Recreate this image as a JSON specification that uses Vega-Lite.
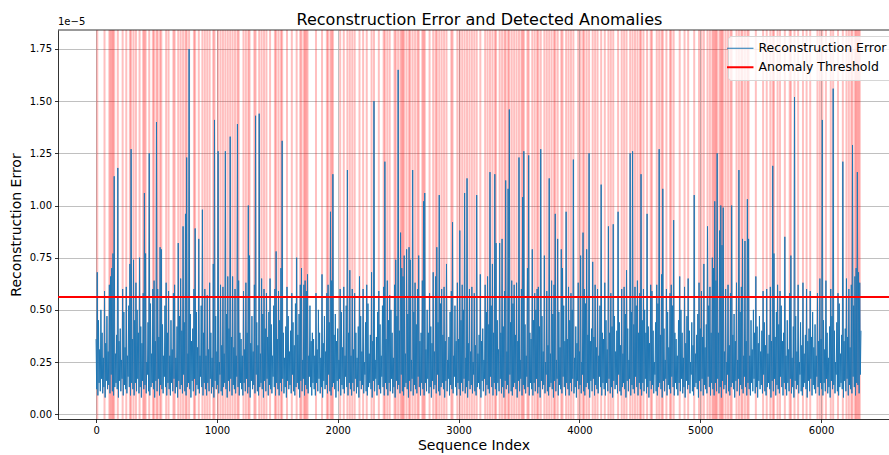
{
"$schema":"https://vega.github.io/schema/vega-lite/v6.json",
"width":831,"height":389,
"autosize":{"type":"none"},
"padding":{"left":58,"top":30,"right":0,"bottom":36},
"title":{"text":"Reconstruction Error and Detected Anomalies","fontSize":16,"fontWeight":"normal","anchor":"middle","offset":6,"dx":6,"dy":17,"color":"#000"},
"datasets":{"err":[
{"x":0,"y":0.36},{"x":5,"y":0.12},{"x":10,"y":0.68},{"x":15,"y":0.09},{"x":20,"y":0.45},{"x":25,"y":0.15},{"x":30,"y":0.31},{"x":35,"y":0.11},{"x":40,"y":0.50},{"x":45,"y":0.17},{"x":50,"y":0.39},{"x":55,"y":0.10},{"x":60,"y":0.27},{"x":65,"y":0.13},{"x":70,"y":0.59},{"x":75,"y":0.08},{"x":80,"y":0.34},{"x":85,"y":0.16},{"x":90,"y":0.47},{"x":95,"y":0.12},
{"x":100,"y":0.30},{"x":105,"y":0.14},{"x":110,"y":0.62},{"x":115,"y":0.10},{"x":120,"y":0.66},{"x":125,"y":0.19},{"x":130,"y":0.70},{"x":135,"y":0.11},{"x":140,"y":0.77},{"x":145,"y":0.09},{"x":150,"y":1.14},{"x":155,"y":0.13},{"x":160,"y":0.29},{"x":165,"y":0.15},{"x":170,"y":0.38},{"x":175,"y":0.12},{"x":180,"y":1.18},{"x":185,"y":0.08},{"x":190,"y":0.35},{"x":195,"y":0.16},
{"x":200,"y":0.41},{"x":205,"y":0.11},{"x":210,"y":0.26},{"x":215,"y":0.17},{"x":220,"y":0.60},{"x":225,"y":0.09},{"x":230,"y":0.49},{"x":235,"y":0.14},{"x":240,"y":0.32},{"x":245,"y":0.12},{"x":250,"y":0.61},{"x":255,"y":0.10},{"x":260,"y":0.28},{"x":265,"y":0.18},{"x":270,"y":0.52},{"x":275,"y":0.13},{"x":280,"y":0.72},{"x":285,"y":0.09},{"x":290,"y":1.27},{"x":295,"y":0.15},
{"x":300,"y":0.36},{"x":305,"y":0.12},{"x":310,"y":0.74},{"x":315,"y":0.09},{"x":320,"y":0.45},{"x":325,"y":0.15},{"x":330,"y":0.63},{"x":335,"y":0.11},{"x":340,"y":0.50},{"x":345,"y":0.17},{"x":350,"y":0.39},{"x":355,"y":0.10},{"x":360,"y":0.75},{"x":365,"y":0.13},{"x":370,"y":0.42},{"x":375,"y":0.08},{"x":380,"y":0.34},{"x":385,"y":0.16},{"x":390,"y":0.58},{"x":395,"y":0.12},
{"x":400,"y":1.06},{"x":405,"y":0.14},{"x":410,"y":0.77},{"x":415,"y":0.10},{"x":420,"y":0.25},{"x":425,"y":0.19},{"x":430,"y":0.44},{"x":435,"y":0.11},{"x":440,"y":1.25},{"x":445,"y":0.09},{"x":450,"y":0.53},{"x":455,"y":0.13},{"x":460,"y":0.29},{"x":465,"y":0.15},{"x":470,"y":0.60},{"x":475,"y":0.12},{"x":480,"y":0.64},{"x":485,"y":0.08},{"x":490,"y":0.35},{"x":495,"y":0.16},
{"x":500,"y":1.40},{"x":505,"y":0.11},{"x":510,"y":0.60},{"x":515,"y":0.17},{"x":520,"y":0.37},{"x":525,"y":0.09},{"x":530,"y":0.80},{"x":535,"y":0.14},{"x":540,"y":0.79},{"x":545,"y":0.12},{"x":550,"y":0.43},{"x":555,"y":0.10},{"x":560,"y":0.28},{"x":565,"y":0.18},{"x":570,"y":0.52},{"x":575,"y":0.13},{"x":580,"y":0.63},{"x":585,"y":0.09},{"x":590,"y":0.39},{"x":595,"y":0.15},
{"x":600,"y":0.59},{"x":605,"y":0.12},{"x":610,"y":0.28},{"x":615,"y":0.09},{"x":620,"y":0.45},{"x":625,"y":0.15},{"x":630,"y":0.31},{"x":635,"y":0.11},{"x":640,"y":0.58},{"x":645,"y":0.17},{"x":650,"y":0.62},{"x":655,"y":0.10},{"x":660,"y":0.27},{"x":665,"y":0.13},{"x":670,"y":0.42},{"x":675,"y":0.08},{"x":680,"y":0.82},{"x":685,"y":0.16},{"x":690,"y":0.47},{"x":695,"y":0.12},
{"x":700,"y":0.65},{"x":705,"y":0.14},{"x":710,"y":0.40},{"x":715,"y":0.10},{"x":720,"y":0.90},{"x":725,"y":0.19},{"x":730,"y":0.44},{"x":735,"y":0.11},{"x":740,"y":0.96},{"x":745,"y":0.09},{"x":750,"y":1.23},{"x":755,"y":0.13},{"x":760,"y":0.29},{"x":765,"y":0.15},{"x":770,"y":1.75},{"x":775,"y":0.12},{"x":780,"y":0.48},{"x":785,"y":0.08},{"x":790,"y":0.35},{"x":795,"y":0.16},
{"x":800,"y":0.41},{"x":805,"y":0.11},{"x":810,"y":0.60},{"x":815,"y":0.17},{"x":820,"y":0.89},{"x":825,"y":0.09},{"x":830,"y":0.49},{"x":835,"y":0.14},{"x":840,"y":0.32},{"x":845,"y":0.12},{"x":850,"y":0.84},{"x":855,"y":0.10},{"x":860,"y":0.28},{"x":865,"y":0.18},{"x":870,"y":0.52},{"x":875,"y":0.13},{"x":880,"y":0.98},{"x":885,"y":0.09},{"x":890,"y":0.39},{"x":895,"y":0.15},
{"x":900,"y":0.60},{"x":905,"y":0.12},{"x":910,"y":0.28},{"x":915,"y":0.09},{"x":920,"y":0.57},{"x":925,"y":0.15},{"x":930,"y":0.31},{"x":935,"y":0.11},{"x":940,"y":0.63},{"x":945,"y":0.17},{"x":950,"y":0.39},{"x":955,"y":0.10},{"x":960,"y":0.27},{"x":965,"y":0.13},{"x":970,"y":0.72},{"x":975,"y":0.08},{"x":980,"y":1.41},{"x":985,"y":0.16},{"x":990,"y":0.47},{"x":995,"y":0.12},
{"x":1000,"y":0.30},{"x":1005,"y":0.14},{"x":1010,"y":1.26},{"x":1015,"y":0.10},{"x":1020,"y":0.25},{"x":1025,"y":0.19},{"x":1030,"y":0.62},{"x":1035,"y":0.11},{"x":1040,"y":0.33},{"x":1045,"y":0.09},{"x":1050,"y":0.61},{"x":1055,"y":0.13},{"x":1060,"y":0.29},{"x":1065,"y":0.15},{"x":1070,"y":1.26},{"x":1075,"y":0.12},{"x":1080,"y":0.48},{"x":1085,"y":0.08},{"x":1090,"y":0.66},{"x":1095,"y":0.16},
{"x":1100,"y":0.41},{"x":1105,"y":0.11},{"x":1110,"y":1.33},{"x":1115,"y":0.17},{"x":1120,"y":0.37},{"x":1125,"y":0.09},{"x":1130,"y":0.66},{"x":1135,"y":0.14},{"x":1140,"y":0.32},{"x":1145,"y":0.12},{"x":1150,"y":0.60},{"x":1155,"y":0.10},{"x":1160,"y":0.28},{"x":1165,"y":0.18},{"x":1170,"y":1.39},{"x":1175,"y":0.13},{"x":1180,"y":0.64},{"x":1185,"y":0.09},{"x":1190,"y":0.39},{"x":1195,"y":0.15},
{"x":1200,"y":0.36},{"x":1205,"y":0.12},{"x":1210,"y":0.28},{"x":1215,"y":0.09},{"x":1220,"y":0.59},{"x":1225,"y":0.15},{"x":1230,"y":0.31},{"x":1235,"y":0.11},{"x":1240,"y":0.63},{"x":1245,"y":0.17},{"x":1250,"y":0.39},{"x":1255,"y":0.10},{"x":1260,"y":1.00},{"x":1265,"y":0.13},{"x":1270,"y":0.76},{"x":1275,"y":0.08},{"x":1280,"y":0.34},{"x":1285,"y":0.16},{"x":1290,"y":0.47},{"x":1295,"y":0.12},
{"x":1300,"y":0.30},{"x":1305,"y":0.14},{"x":1310,"y":0.62},{"x":1315,"y":0.10},{"x":1320,"y":1.43},{"x":1325,"y":0.19},{"x":1330,"y":0.44},{"x":1335,"y":0.11},{"x":1340,"y":0.33},{"x":1345,"y":0.09},{"x":1350,"y":1.44},{"x":1355,"y":0.13},{"x":1360,"y":0.29},{"x":1365,"y":0.15},{"x":1370,"y":0.65},{"x":1375,"y":0.12},{"x":1380,"y":0.48},{"x":1385,"y":0.08},{"x":1390,"y":0.60},{"x":1395,"y":0.16},
{"x":1400,"y":0.41},{"x":1405,"y":0.11},{"x":1410,"y":0.58},{"x":1415,"y":0.17},{"x":1420,"y":0.37},{"x":1425,"y":0.09},{"x":1430,"y":0.49},{"x":1435,"y":0.14},{"x":1440,"y":0.65},{"x":1445,"y":0.12},{"x":1450,"y":0.43},{"x":1455,"y":0.10},{"x":1460,"y":0.28},{"x":1465,"y":0.18},{"x":1470,"y":0.52},{"x":1475,"y":0.13},{"x":1480,"y":0.60},{"x":1485,"y":0.09},{"x":1490,"y":0.78},{"x":1495,"y":0.15},
{"x":1500,"y":0.36},{"x":1505,"y":0.12},{"x":1510,"y":0.59},{"x":1515,"y":0.09},{"x":1520,"y":0.45},{"x":1525,"y":0.15},{"x":1530,"y":0.70},{"x":1535,"y":0.11},{"x":1540,"y":1.31},{"x":1545,"y":0.17},{"x":1550,"y":0.39},{"x":1555,"y":0.10},{"x":1560,"y":0.27},{"x":1565,"y":0.13},{"x":1570,"y":0.42},{"x":1575,"y":0.08},{"x":1580,"y":0.61},{"x":1585,"y":0.16},{"x":1590,"y":0.47},{"x":1595,"y":0.12},
{"x":1600,"y":0.30},{"x":1605,"y":0.14},{"x":1610,"y":0.40},{"x":1615,"y":0.10},{"x":1620,"y":0.58},{"x":1625,"y":0.19},{"x":1630,"y":0.44},{"x":1635,"y":0.11},{"x":1640,"y":0.33},{"x":1645,"y":0.09},{"x":1650,"y":0.53},{"x":1655,"y":0.13},{"x":1660,"y":0.75},{"x":1665,"y":0.15},{"x":1670,"y":0.38},{"x":1675,"y":0.12},{"x":1680,"y":0.48},{"x":1685,"y":0.08},{"x":1690,"y":0.62},{"x":1695,"y":0.16},
{"x":1700,"y":0.70},{"x":1705,"y":0.11},{"x":1710,"y":0.26},{"x":1715,"y":0.17},{"x":1720,"y":0.62},{"x":1725,"y":0.09},{"x":1730,"y":0.64},{"x":1735,"y":0.14},{"x":1740,"y":0.59},{"x":1745,"y":0.12},{"x":1750,"y":0.67},{"x":1755,"y":0.10},{"x":1760,"y":0.28},{"x":1765,"y":0.18},{"x":1770,"y":0.52},{"x":1775,"y":0.13},{"x":1780,"y":0.35},{"x":1785,"y":0.09},{"x":1790,"y":0.39},{"x":1795,"y":0.15},
{"x":1800,"y":0.36},{"x":1805,"y":0.12},{"x":1810,"y":0.28},{"x":1815,"y":0.09},{"x":1820,"y":0.58},{"x":1825,"y":0.15},{"x":1830,"y":0.31},{"x":1835,"y":0.11},{"x":1840,"y":0.50},{"x":1845,"y":0.17},{"x":1850,"y":0.39},{"x":1855,"y":0.10},{"x":1860,"y":0.27},{"x":1865,"y":0.13},{"x":1870,"y":0.67},{"x":1875,"y":0.08},{"x":1880,"y":0.34},{"x":1885,"y":0.16},{"x":1890,"y":0.47},{"x":1895,"y":0.12},
{"x":1900,"y":0.30},{"x":1905,"y":0.14},{"x":1910,"y":0.58},{"x":1915,"y":0.10},{"x":1920,"y":0.62},{"x":1925,"y":0.19},{"x":1930,"y":0.44},{"x":1935,"y":0.11},{"x":1940,"y":0.97},{"x":1945,"y":0.09},{"x":1950,"y":0.64},{"x":1955,"y":0.13},{"x":1960,"y":1.15},{"x":1965,"y":0.15},{"x":1970,"y":0.38},{"x":1975,"y":0.12},{"x":1980,"y":0.48},{"x":1985,"y":0.08},{"x":1990,"y":0.35},{"x":1995,"y":0.16},
{"x":2000,"y":0.41},{"x":2005,"y":0.11},{"x":2010,"y":0.26},{"x":2015,"y":0.17},{"x":2020,"y":0.60},{"x":2025,"y":0.09},{"x":2030,"y":0.49},{"x":2035,"y":0.14},{"x":2040,"y":0.32},{"x":2045,"y":0.12},{"x":2050,"y":0.61},{"x":2055,"y":0.10},{"x":2060,"y":0.28},{"x":2065,"y":0.18},{"x":2070,"y":0.52},{"x":2075,"y":0.13},{"x":2080,"y":1.17},{"x":2085,"y":0.09},{"x":2090,"y":0.39},{"x":2095,"y":0.15},
{"x":2100,"y":0.69},{"x":2105,"y":0.12},{"x":2110,"y":0.28},{"x":2115,"y":0.09},{"x":2120,"y":0.60},{"x":2125,"y":0.15},{"x":2130,"y":0.31},{"x":2135,"y":0.11},{"x":2140,"y":0.58},{"x":2145,"y":0.17},{"x":2150,"y":0.39},{"x":2155,"y":0.10},{"x":2160,"y":0.27},{"x":2165,"y":0.13},{"x":2170,"y":0.42},{"x":2175,"y":0.08},{"x":2180,"y":0.66},{"x":2185,"y":0.16},{"x":2190,"y":0.47},{"x":2195,"y":0.12},
{"x":2200,"y":0.30},{"x":2205,"y":0.14},{"x":2210,"y":0.60},{"x":2215,"y":0.10},{"x":2220,"y":0.25},{"x":2225,"y":0.19},{"x":2230,"y":0.44},{"x":2235,"y":0.11},{"x":2240,"y":0.62},{"x":2245,"y":0.09},{"x":2250,"y":0.53},{"x":2255,"y":0.13},{"x":2260,"y":0.29},{"x":2265,"y":0.15},{"x":2270,"y":0.38},{"x":2275,"y":0.12},{"x":2280,"y":0.68},{"x":2285,"y":0.08},{"x":2290,"y":0.35},{"x":2295,"y":0.16},
{"x":2300,"y":1.50},{"x":2305,"y":0.11},{"x":2310,"y":0.26},{"x":2315,"y":0.17},{"x":2320,"y":0.37},{"x":2325,"y":0.09},{"x":2330,"y":0.49},{"x":2335,"y":0.14},{"x":2340,"y":0.59},{"x":2345,"y":0.12},{"x":2350,"y":0.43},{"x":2355,"y":0.10},{"x":2360,"y":0.28},{"x":2365,"y":0.18},{"x":2370,"y":0.52},{"x":2375,"y":0.13},{"x":2380,"y":0.61},{"x":2385,"y":0.09},{"x":2390,"y":1.21},{"x":2395,"y":0.15},
{"x":2400,"y":0.36},{"x":2405,"y":0.12},{"x":2410,"y":0.64},{"x":2415,"y":0.09},{"x":2420,"y":0.45},{"x":2425,"y":0.15},{"x":2430,"y":0.57},{"x":2435,"y":0.11},{"x":2440,"y":0.50},{"x":2445,"y":0.17},{"x":2450,"y":0.39},{"x":2455,"y":0.10},{"x":2460,"y":0.27},{"x":2465,"y":0.13},{"x":2470,"y":0.62},{"x":2475,"y":0.08},{"x":2480,"y":0.74},{"x":2485,"y":0.16},{"x":2490,"y":0.47},{"x":2495,"y":0.12},
{"x":2500,"y":1.65},{"x":2505,"y":0.14},{"x":2510,"y":0.40},{"x":2515,"y":0.10},{"x":2520,"y":0.87},{"x":2525,"y":0.19},{"x":2530,"y":0.70},{"x":2535,"y":0.11},{"x":2540,"y":0.66},{"x":2545,"y":0.09},{"x":2550,"y":0.76},{"x":2555,"y":0.13},{"x":2560,"y":0.29},{"x":2565,"y":0.15},{"x":2570,"y":0.79},{"x":2575,"y":0.12},{"x":2580,"y":0.48},{"x":2585,"y":0.08},{"x":2590,"y":0.80},{"x":2595,"y":0.16},
{"x":2600,"y":0.74},{"x":2605,"y":0.11},{"x":2610,"y":0.26},{"x":2615,"y":0.17},{"x":2620,"y":1.17},{"x":2625,"y":0.09},{"x":2630,"y":0.49},{"x":2635,"y":0.14},{"x":2640,"y":0.63},{"x":2645,"y":0.12},{"x":2650,"y":0.43},{"x":2655,"y":0.10},{"x":2660,"y":0.60},{"x":2665,"y":0.18},{"x":2670,"y":0.76},{"x":2675,"y":0.13},{"x":2680,"y":0.35},{"x":2685,"y":0.09},{"x":2690,"y":0.39},{"x":2695,"y":0.15},
{"x":2700,"y":0.64},{"x":2705,"y":0.12},{"x":2710,"y":1.02},{"x":2715,"y":0.09},{"x":2720,"y":1.06},{"x":2725,"y":0.15},{"x":2730,"y":0.31},{"x":2735,"y":0.11},{"x":2740,"y":0.50},{"x":2745,"y":0.17},{"x":2750,"y":0.39},{"x":2755,"y":0.10},{"x":2760,"y":0.58},{"x":2765,"y":0.13},{"x":2770,"y":0.42},{"x":2775,"y":0.08},{"x":2780,"y":0.34},{"x":2785,"y":0.16},{"x":2790,"y":0.68},{"x":2795,"y":0.12},
{"x":2800,"y":0.30},{"x":2805,"y":0.14},{"x":2810,"y":0.66},{"x":2815,"y":0.10},{"x":2820,"y":0.80},{"x":2825,"y":0.19},{"x":2830,"y":0.44},{"x":2835,"y":0.11},{"x":2840,"y":1.05},{"x":2845,"y":0.09},{"x":2850,"y":0.53},{"x":2855,"y":0.13},{"x":2860,"y":0.60},{"x":2865,"y":0.15},{"x":2870,"y":0.38},{"x":2875,"y":0.12},{"x":2880,"y":0.61},{"x":2885,"y":0.08},{"x":2890,"y":0.35},{"x":2895,"y":0.16},
{"x":2900,"y":0.72},{"x":2905,"y":0.11},{"x":2910,"y":0.26},{"x":2915,"y":0.17},{"x":2920,"y":0.37},{"x":2925,"y":0.09},{"x":2930,"y":0.49},{"x":2935,"y":0.14},{"x":2940,"y":0.59},{"x":2945,"y":0.12},{"x":2950,"y":0.92},{"x":2955,"y":0.10},{"x":2960,"y":0.28},{"x":2965,"y":0.18},{"x":2970,"y":0.52},{"x":2975,"y":0.13},{"x":2980,"y":0.35},{"x":2985,"y":0.09},{"x":2990,"y":0.63},{"x":2995,"y":0.15},
{"x":3000,"y":0.36},{"x":3005,"y":0.12},{"x":3010,"y":0.88},{"x":3015,"y":0.09},{"x":3020,"y":0.45},{"x":3025,"y":0.15},{"x":3030,"y":0.62},{"x":3035,"y":0.11},{"x":3040,"y":0.50},{"x":3045,"y":0.17},{"x":3050,"y":1.06},{"x":3055,"y":0.10},{"x":3060,"y":0.27},{"x":3065,"y":0.13},{"x":3070,"y":1.13},{"x":3075,"y":0.08},{"x":3080,"y":0.34},{"x":3085,"y":0.16},{"x":3090,"y":0.60},{"x":3095,"y":0.12},
{"x":3100,"y":0.30},{"x":3105,"y":0.14},{"x":3110,"y":0.61},{"x":3115,"y":0.10},{"x":3120,"y":0.25},{"x":3125,"y":0.19},{"x":3130,"y":0.58},{"x":3135,"y":0.11},{"x":3140,"y":0.33},{"x":3145,"y":0.09},{"x":3150,"y":1.05},{"x":3155,"y":0.13},{"x":3160,"y":0.29},{"x":3165,"y":0.15},{"x":3170,"y":0.38},{"x":3175,"y":0.12},{"x":3180,"y":0.67},{"x":3185,"y":0.08},{"x":3190,"y":0.35},{"x":3195,"y":0.16},
{"x":3200,"y":0.41},{"x":3205,"y":0.11},{"x":3210,"y":0.26},{"x":3215,"y":0.17},{"x":3220,"y":0.62},{"x":3225,"y":0.09},{"x":3230,"y":0.49},{"x":3235,"y":0.14},{"x":3240,"y":0.66},{"x":3245,"y":0.12},{"x":3250,"y":0.43},{"x":3255,"y":0.10},{"x":3260,"y":1.16},{"x":3265,"y":0.18},{"x":3270,"y":0.52},{"x":3275,"y":0.13},{"x":3280,"y":0.72},{"x":3285,"y":0.09},{"x":3290,"y":0.39},{"x":3295,"y":0.15},
{"x":3300,"y":1.15},{"x":3305,"y":0.12},{"x":3310,"y":0.82},{"x":3315,"y":0.09},{"x":3320,"y":0.45},{"x":3325,"y":0.15},{"x":3330,"y":0.31},{"x":3335,"y":0.11},{"x":3340,"y":0.82},{"x":3345,"y":0.17},{"x":3350,"y":0.39},{"x":3355,"y":0.10},{"x":3360,"y":0.84},{"x":3365,"y":0.13},{"x":3370,"y":0.42},{"x":3375,"y":0.08},{"x":3380,"y":0.59},{"x":3385,"y":0.16},{"x":3390,"y":1.12},{"x":3395,"y":0.12},
{"x":3400,"y":0.30},{"x":3405,"y":0.14},{"x":3410,"y":1.08},{"x":3415,"y":0.10},{"x":3420,"y":1.46},{"x":3425,"y":0.19},{"x":3430,"y":0.44},{"x":3435,"y":0.11},{"x":3440,"y":0.64},{"x":3445,"y":0.09},{"x":3450,"y":0.53},{"x":3455,"y":0.13},{"x":3460,"y":0.62},{"x":3465,"y":0.15},{"x":3470,"y":0.38},{"x":3475,"y":0.12},{"x":3480,"y":0.63},{"x":3485,"y":0.08},{"x":3490,"y":0.35},{"x":3495,"y":0.16},
{"x":3500,"y":1.23},{"x":3505,"y":0.11},{"x":3510,"y":0.26},{"x":3515,"y":0.17},{"x":3520,"y":0.60},{"x":3525,"y":0.09},{"x":3530,"y":1.04},{"x":3535,"y":0.14},{"x":3540,"y":1.26},{"x":3545,"y":0.12},{"x":3550,"y":0.43},{"x":3555,"y":0.10},{"x":3560,"y":0.28},{"x":3565,"y":0.18},{"x":3570,"y":0.70},{"x":3575,"y":0.13},{"x":3580,"y":1.24},{"x":3585,"y":0.09},{"x":3590,"y":0.39},{"x":3595,"y":0.15},
{"x":3600,"y":0.36},{"x":3605,"y":0.12},{"x":3610,"y":0.79},{"x":3615,"y":0.09},{"x":3620,"y":0.45},{"x":3625,"y":0.15},{"x":3630,"y":0.58},{"x":3635,"y":0.11},{"x":3640,"y":0.50},{"x":3645,"y":0.17},{"x":3650,"y":0.60},{"x":3655,"y":0.10},{"x":3660,"y":0.61},{"x":3665,"y":0.13},{"x":3670,"y":0.42},{"x":3675,"y":0.08},{"x":3680,"y":1.27},{"x":3685,"y":0.16},{"x":3690,"y":0.47},{"x":3695,"y":0.12},
{"x":3700,"y":0.30},{"x":3705,"y":0.14},{"x":3710,"y":0.76},{"x":3715,"y":0.10},{"x":3720,"y":0.25},{"x":3725,"y":0.19},{"x":3730,"y":0.59},{"x":3735,"y":0.11},{"x":3740,"y":0.33},{"x":3745,"y":0.09},{"x":3750,"y":1.13},{"x":3755,"y":0.13},{"x":3760,"y":0.29},{"x":3765,"y":0.15},{"x":3770,"y":0.64},{"x":3775,"y":0.12},{"x":3780,"y":0.48},{"x":3785,"y":0.08},{"x":3790,"y":0.62},{"x":3795,"y":0.16},
{"x":3800,"y":0.96},{"x":3805,"y":0.11},{"x":3810,"y":0.26},{"x":3815,"y":0.17},{"x":3820,"y":0.84},{"x":3825,"y":0.09},{"x":3830,"y":0.49},{"x":3835,"y":0.14},{"x":3840,"y":0.32},{"x":3845,"y":0.12},{"x":3850,"y":0.79},{"x":3855,"y":0.10},{"x":3860,"y":0.70},{"x":3865,"y":0.18},{"x":3870,"y":0.52},{"x":3875,"y":0.13},{"x":3880,"y":0.35},{"x":3885,"y":0.09},{"x":3890,"y":0.97},{"x":3895,"y":0.15},
{"x":3900,"y":0.36},{"x":3905,"y":0.12},{"x":3910,"y":0.61},{"x":3915,"y":0.09},{"x":3920,"y":0.45},{"x":3925,"y":0.15},{"x":3930,"y":0.58},{"x":3935,"y":0.11},{"x":3940,"y":0.50},{"x":3945,"y":0.17},{"x":3950,"y":1.22},{"x":3955,"y":0.10},{"x":3960,"y":0.27},{"x":3965,"y":0.13},{"x":3970,"y":0.42},{"x":3975,"y":0.08},{"x":3980,"y":0.34},{"x":3985,"y":0.16},{"x":3990,"y":0.63},{"x":3995,"y":0.12},
{"x":4000,"y":0.30},{"x":4005,"y":0.14},{"x":4010,"y":0.76},{"x":4015,"y":0.10},{"x":4020,"y":0.25},{"x":4025,"y":0.19},{"x":4030,"y":0.87},{"x":4035,"y":0.11},{"x":4040,"y":0.60},{"x":4045,"y":0.09},{"x":4050,"y":0.53},{"x":4055,"y":0.13},{"x":4060,"y":0.79},{"x":4065,"y":0.15},{"x":4070,"y":0.38},{"x":4075,"y":0.12},{"x":4080,"y":1.25},{"x":4085,"y":0.08},{"x":4090,"y":0.35},{"x":4095,"y":0.16},
{"x":4100,"y":0.41},{"x":4105,"y":0.11},{"x":4110,"y":0.73},{"x":4115,"y":0.17},{"x":4120,"y":0.37},{"x":4125,"y":0.09},{"x":4130,"y":0.62},{"x":4135,"y":0.14},{"x":4140,"y":0.32},{"x":4145,"y":0.12},{"x":4150,"y":0.60},{"x":4155,"y":0.10},{"x":4160,"y":0.28},{"x":4165,"y":0.18},{"x":4170,"y":0.52},{"x":4175,"y":0.13},{"x":4180,"y":1.10},{"x":4185,"y":0.09},{"x":4190,"y":0.39},{"x":4195,"y":0.15},
{"x":4200,"y":0.36},{"x":4205,"y":0.12},{"x":4210,"y":0.63},{"x":4215,"y":0.09},{"x":4220,"y":0.45},{"x":4225,"y":0.15},{"x":4230,"y":0.31},{"x":4235,"y":0.11},{"x":4240,"y":0.90},{"x":4245,"y":0.17},{"x":4250,"y":0.39},{"x":4255,"y":0.10},{"x":4260,"y":0.58},{"x":4265,"y":0.13},{"x":4270,"y":0.42},{"x":4275,"y":0.08},{"x":4280,"y":0.91},{"x":4285,"y":0.16},{"x":4290,"y":0.47},{"x":4295,"y":0.12},
{"x":4300,"y":0.30},{"x":4305,"y":0.14},{"x":4310,"y":0.40},{"x":4315,"y":0.10},{"x":4320,"y":0.97},{"x":4325,"y":0.19},{"x":4330,"y":0.44},{"x":4335,"y":0.11},{"x":4340,"y":0.33},{"x":4345,"y":0.09},{"x":4350,"y":0.60},{"x":4355,"y":0.13},{"x":4360,"y":0.29},{"x":4365,"y":0.15},{"x":4370,"y":0.61},{"x":4375,"y":0.12},{"x":4380,"y":0.48},{"x":4385,"y":0.08},{"x":4390,"y":0.69},{"x":4395,"y":0.16},
{"x":4400,"y":0.41},{"x":4405,"y":0.11},{"x":4410,"y":0.26},{"x":4415,"y":0.17},{"x":4420,"y":1.25},{"x":4425,"y":0.09},{"x":4430,"y":0.49},{"x":4435,"y":0.14},{"x":4440,"y":1.26},{"x":4445,"y":0.12},{"x":4450,"y":0.43},{"x":4455,"y":0.10},{"x":4460,"y":0.61},{"x":4465,"y":0.18},{"x":4470,"y":0.52},{"x":4475,"y":0.13},{"x":4480,"y":0.64},{"x":4485,"y":0.09},{"x":4490,"y":0.39},{"x":4495,"y":0.15},
{"x":4500,"y":0.58},{"x":4505,"y":0.12},{"x":4510,"y":1.15},{"x":4515,"y":0.09},{"x":4520,"y":0.45},{"x":4525,"y":0.15},{"x":4530,"y":0.60},{"x":4535,"y":0.11},{"x":4540,"y":0.50},{"x":4545,"y":0.17},{"x":4550,"y":0.39},{"x":4555,"y":0.10},{"x":4560,"y":0.96},{"x":4565,"y":0.13},{"x":4570,"y":0.42},{"x":4575,"y":0.08},{"x":4580,"y":0.34},{"x":4585,"y":0.16},{"x":4590,"y":0.62},{"x":4595,"y":0.12},
{"x":4600,"y":0.59},{"x":4605,"y":0.14},{"x":4610,"y":0.40},{"x":4615,"y":0.10},{"x":4620,"y":0.25},{"x":4625,"y":0.19},{"x":4630,"y":0.44},{"x":4635,"y":0.11},{"x":4640,"y":0.62},{"x":4645,"y":0.09},{"x":4650,"y":0.53},{"x":4655,"y":0.13},{"x":4660,"y":1.27},{"x":4665,"y":0.15},{"x":4670,"y":0.38},{"x":4675,"y":0.12},{"x":4680,"y":0.67},{"x":4685,"y":0.08},{"x":4690,"y":1.08},{"x":4695,"y":0.16},
{"x":4700,"y":0.41},{"x":4705,"y":0.11},{"x":4710,"y":0.26},{"x":4715,"y":0.17},{"x":4720,"y":0.60},{"x":4725,"y":0.09},{"x":4730,"y":0.49},{"x":4735,"y":0.14},{"x":4740,"y":0.32},{"x":4745,"y":0.12},{"x":4750,"y":0.58},{"x":4755,"y":0.10},{"x":4760,"y":0.62},{"x":4765,"y":0.18},{"x":4770,"y":0.52},{"x":4775,"y":0.13},{"x":4780,"y":0.93},{"x":4785,"y":0.09},{"x":4790,"y":0.39},{"x":4795,"y":0.15},
{"x":4800,"y":0.36},{"x":4805,"y":0.12},{"x":4810,"y":0.28},{"x":4815,"y":0.09},{"x":4820,"y":0.45},{"x":4825,"y":0.15},{"x":4830,"y":0.66},{"x":4835,"y":0.11},{"x":4840,"y":0.50},{"x":4845,"y":0.17},{"x":4850,"y":0.39},{"x":4855,"y":0.10},{"x":4860,"y":0.27},{"x":4865,"y":0.13},{"x":4870,"y":0.61},{"x":4875,"y":0.08},{"x":4880,"y":0.34},{"x":4885,"y":0.16},{"x":4890,"y":0.47},{"x":4895,"y":0.12},
{"x":4900,"y":0.65},{"x":4905,"y":0.14},{"x":4910,"y":0.40},{"x":4915,"y":0.10},{"x":4920,"y":0.25},{"x":4925,"y":0.19},{"x":4930,"y":0.44},{"x":4935,"y":0.11},{"x":4940,"y":0.33},{"x":4945,"y":0.09},{"x":4950,"y":1.05},{"x":4955,"y":0.13},{"x":4960,"y":0.29},{"x":4965,"y":0.15},{"x":4970,"y":0.38},{"x":4975,"y":0.12},{"x":4980,"y":0.48},{"x":4985,"y":0.08},{"x":4990,"y":0.63},{"x":4995,"y":0.16},
{"x":5000,"y":0.41},{"x":5005,"y":0.11},{"x":5010,"y":0.59},{"x":5015,"y":0.17},{"x":5020,"y":0.37},{"x":5025,"y":0.09},{"x":5030,"y":0.72},{"x":5035,"y":0.14},{"x":5040,"y":0.32},{"x":5045,"y":0.12},{"x":5050,"y":0.43},{"x":5055,"y":0.10},{"x":5060,"y":0.90},{"x":5065,"y":0.18},{"x":5070,"y":0.52},{"x":5075,"y":0.13},{"x":5080,"y":0.61},{"x":5085,"y":0.09},{"x":5090,"y":0.39},{"x":5095,"y":0.15},
{"x":5100,"y":0.75},{"x":5105,"y":0.12},{"x":5110,"y":0.70},{"x":5115,"y":0.09},{"x":5120,"y":1.02},{"x":5125,"y":0.15},{"x":5130,"y":0.64},{"x":5135,"y":0.11},{"x":5140,"y":1.25},{"x":5145,"y":0.17},{"x":5150,"y":0.39},{"x":5155,"y":0.10},{"x":5160,"y":0.88},{"x":5165,"y":0.13},{"x":5170,"y":1.00},{"x":5175,"y":0.08},{"x":5180,"y":0.81},{"x":5185,"y":0.16},{"x":5190,"y":0.99},{"x":5195,"y":0.12},
{"x":5200,"y":0.30},{"x":5205,"y":0.14},{"x":5210,"y":0.60},{"x":5215,"y":0.10},{"x":5220,"y":0.25},{"x":5225,"y":0.19},{"x":5230,"y":0.62},{"x":5235,"y":0.11},{"x":5240,"y":0.33},{"x":5245,"y":0.09},{"x":5250,"y":0.58},{"x":5255,"y":0.13},{"x":5260,"y":1.00},{"x":5265,"y":0.15},{"x":5270,"y":0.38},{"x":5275,"y":0.12},{"x":5280,"y":0.48},{"x":5285,"y":0.08},{"x":5290,"y":0.35},{"x":5295,"y":0.16},
{"x":5300,"y":0.63},{"x":5305,"y":0.11},{"x":5310,"y":0.26},{"x":5315,"y":0.17},{"x":5320,"y":1.17},{"x":5325,"y":0.09},{"x":5330,"y":0.49},{"x":5335,"y":0.14},{"x":5340,"y":0.61},{"x":5345,"y":0.12},{"x":5350,"y":0.84},{"x":5355,"y":0.10},{"x":5360,"y":0.28},{"x":5365,"y":0.18},{"x":5370,"y":0.83},{"x":5375,"y":0.13},{"x":5380,"y":0.35},{"x":5385,"y":0.09},{"x":5390,"y":1.03},{"x":5395,"y":0.15},
{"x":5400,"y":0.84},{"x":5405,"y":0.12},{"x":5410,"y":0.28},{"x":5415,"y":0.09},{"x":5420,"y":0.45},{"x":5425,"y":0.15},{"x":5430,"y":0.31},{"x":5435,"y":0.11},{"x":5440,"y":0.50},{"x":5445,"y":0.17},{"x":5450,"y":0.39},{"x":5455,"y":0.10},{"x":5460,"y":0.66},{"x":5465,"y":0.13},{"x":5470,"y":0.42},{"x":5475,"y":0.08},{"x":5480,"y":0.34},{"x":5485,"y":0.16},{"x":5490,"y":0.47},{"x":5495,"y":0.12},
{"x":5500,"y":0.30},{"x":5505,"y":0.14},{"x":5510,"y":0.40},{"x":5515,"y":0.10},{"x":5520,"y":0.59},{"x":5525,"y":0.19},{"x":5530,"y":0.44},{"x":5535,"y":0.11},{"x":5540,"y":0.33},{"x":5545,"y":0.09},{"x":5550,"y":0.60},{"x":5555,"y":0.13},{"x":5560,"y":0.29},{"x":5565,"y":0.15},{"x":5570,"y":0.38},{"x":5575,"y":0.12},{"x":5580,"y":0.61},{"x":5585,"y":0.08},{"x":5590,"y":0.35},{"x":5595,"y":0.16},
{"x":5600,"y":1.19},{"x":5605,"y":0.11},{"x":5610,"y":0.77},{"x":5615,"y":0.17},{"x":5620,"y":0.37},{"x":5625,"y":0.09},{"x":5630,"y":0.49},{"x":5635,"y":0.14},{"x":5640,"y":0.62},{"x":5645,"y":0.12},{"x":5650,"y":0.43},{"x":5655,"y":0.10},{"x":5660,"y":0.59},{"x":5665,"y":0.18},{"x":5670,"y":0.52},{"x":5675,"y":0.13},{"x":5680,"y":0.35},{"x":5685,"y":0.09},{"x":5690,"y":0.39},{"x":5695,"y":0.15},
{"x":5700,"y":0.85},{"x":5705,"y":0.12},{"x":5710,"y":0.28},{"x":5715,"y":0.09},{"x":5720,"y":0.45},{"x":5725,"y":0.15},{"x":5730,"y":0.31},{"x":5735,"y":0.11},{"x":5740,"y":0.58},{"x":5745,"y":0.17},{"x":5750,"y":0.76},{"x":5755,"y":0.10},{"x":5760,"y":0.27},{"x":5765,"y":0.13},{"x":5770,"y":0.42},{"x":5775,"y":0.08},{"x":5780,"y":1.52},{"x":5785,"y":0.16},{"x":5790,"y":0.47},{"x":5795,"y":0.12},
{"x":5800,"y":0.30},{"x":5805,"y":0.14},{"x":5810,"y":0.62},{"x":5815,"y":0.10},{"x":5820,"y":0.25},{"x":5825,"y":0.19},{"x":5830,"y":0.44},{"x":5835,"y":0.11},{"x":5840,"y":0.33},{"x":5845,"y":0.09},{"x":5850,"y":0.63},{"x":5855,"y":0.13},{"x":5860,"y":0.29},{"x":5865,"y":0.15},{"x":5870,"y":0.38},{"x":5875,"y":0.12},{"x":5880,"y":0.60},{"x":5885,"y":0.08},{"x":5890,"y":0.35},{"x":5895,"y":0.16},
{"x":5900,"y":0.41},{"x":5905,"y":0.11},{"x":5910,"y":0.59},{"x":5915,"y":0.17},{"x":5920,"y":0.37},{"x":5925,"y":0.09},{"x":5930,"y":0.49},{"x":5935,"y":0.14},{"x":5940,"y":0.32},{"x":5945,"y":0.12},{"x":5950,"y":0.43},{"x":5955,"y":0.10},{"x":5960,"y":0.28},{"x":5965,"y":0.18},{"x":5970,"y":0.58},{"x":5975,"y":0.13},{"x":5980,"y":0.35},{"x":5985,"y":0.09},{"x":5990,"y":0.65},{"x":5995,"y":0.15},
{"x":6000,"y":0.36},{"x":6005,"y":0.12},{"x":6010,"y":1.41},{"x":6015,"y":0.09},{"x":6020,"y":0.45},{"x":6025,"y":0.15},{"x":6030,"y":0.31},{"x":6035,"y":0.11},{"x":6040,"y":0.64},{"x":6045,"y":0.17},{"x":6050,"y":0.39},{"x":6055,"y":0.10},{"x":6060,"y":0.27},{"x":6065,"y":0.13},{"x":6070,"y":0.42},{"x":6075,"y":0.08},{"x":6080,"y":0.60},{"x":6085,"y":0.16},{"x":6090,"y":0.47},{"x":6095,"y":0.12},
{"x":6100,"y":1.56},{"x":6105,"y":0.14},{"x":6110,"y":0.40},{"x":6115,"y":0.10},{"x":6120,"y":0.25},{"x":6125,"y":0.19},{"x":6130,"y":0.44},{"x":6135,"y":0.11},{"x":6140,"y":0.58},{"x":6145,"y":0.09},{"x":6150,"y":0.53},{"x":6155,"y":0.13},{"x":6160,"y":0.29},{"x":6165,"y":0.15},{"x":6170,"y":0.38},{"x":6175,"y":0.12},{"x":6180,"y":1.21},{"x":6185,"y":0.08},{"x":6190,"y":0.35},{"x":6195,"y":0.16},
{"x":6200,"y":0.41},{"x":6205,"y":0.11},{"x":6210,"y":0.65},{"x":6215,"y":0.17},{"x":6220,"y":0.37},{"x":6225,"y":0.09},{"x":6230,"y":0.60},{"x":6235,"y":0.14},{"x":6240,"y":0.32},{"x":6245,"y":0.12},{"x":6250,"y":0.62},{"x":6255,"y":0.10},{"x":6260,"y":1.29},{"x":6265,"y":0.18},{"x":6270,"y":0.52},{"x":6275,"y":0.13},{"x":6280,"y":0.66},{"x":6285,"y":0.09},{"x":6290,"y":0.70},{"x":6295,"y":0.15},
{"x":6300,"y":1.16},{"x":6305,"y":0.14},{"x":6310,"y":0.68},{"x":6315,"y":0.10},{"x":6320,"y":0.63},{"x":6325,"y":0.19},{"x":6330,"y":0.40}
]},
"layer":[
{"data":{"name":"err"},"transform":[{"filter":"datum.y > 0.562"}],
 "mark":{"type":"rule","color":"#ff0000","opacity":0.25,"strokeWidth":2},
 "encoding":{"x":{"field":"x","type":"quantitative","scale":{"domain":[-315,6562],"nice":false,"zero":false}}}},
{"data":{"name":"err"},"mark":{"type":"line","strokeWidth":1,"interpolate":"linear"},
 "encoding":{
  "x":{"field":"x","type":"quantitative","scale":{"domain":[-315,6562],"nice":false,"zero":false},
       "axis":{"title":"Sequence Index","values":[0,1000,2000,3000,4000,5000,6000],"format":"d","labelFlush":false,"titlePadding":3}},
  "y":{"field":"y","type":"quantitative","scale":{"domain":[-0.023,1.841],"nice":false,"zero":false},
       "axis":{"title":"Reconstruction Error","values":[0,0.25,0.5,0.75,1,1.25,1.5,1.75],"format":".2f","titlePadding":6}},
  "color":{"datum":"Reconstruction Error","type":"nominal",
   "scale":{"domain":["Reconstruction Error","Anomaly Threshold"],"range":["#1f77b4","#ff0000"]},
   "legend":{"title":null,"orient":"none","legendX":670,"legendY":6,"symbolType":"stroke","symbolSize":700,"symbolStrokeWidth":1.5,
     "labelFontSize":12.5,"labelColor":"#000","labelLimit":400,"fillColor":"rgba(255,255,255,0.8)","strokeColor":"#d6d6d6","cornerRadius":3,"padding":6,"rowPadding":6,"labelOffset":12,
     "encode":{"symbols":{"update":{"strokeWidth":{"signal":"datum.value === 'Anomaly Threshold' ? 2 : 1"}}}}}}
 }},
{"data":{"values":[{"t":0.562}]},"mark":{"type":"rule","strokeWidth":2},
 "encoding":{"y":{"field":"t","type":"quantitative"},"color":{"datum":"Anomaly Threshold","type":"nominal"}}},
{"data":{"values":[{"top":1.841}]},"mark":{"type":"rule","color":"#000","strokeWidth":0.8},
 "encoding":{"y":{"field":"top","type":"quantitative"}}},
{"data":{"values":[{"lx":-315,"ly":1.841,"label":"1e−5"}]},"mark":{"type":"text","align":"left","baseline":"bottom","dy":-3,"fontSize":10,"color":"#000"},
 "encoding":{"x":{"field":"lx","type":"quantitative"},"y":{"field":"ly","type":"quantitative"},"text":{"field":"label"}}}
],
"config":{"font":"DejaVu Sans","view":{"stroke":null},
 "axis":{"grid":true,"gridColor":"#b0b0b0","gridWidth":0.8,"domainColor":"#000","domainWidth":0.8,"tickColor":"#000","tickWidth":0.8,"tickSize":3.5,
  "labelColor":"#000","labelFontSize":10,"labelPadding":3,"titleColor":"#000","titleFontSize":14,"titleFontWeight":"normal"}}
}
